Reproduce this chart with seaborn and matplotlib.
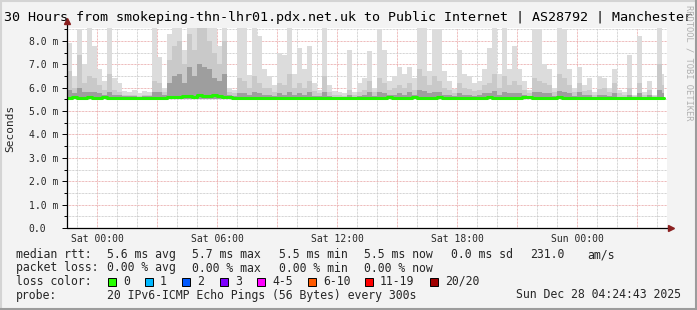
import numpy as np
import pandas as pd
import matplotlib
matplotlib.use("Agg")
import matplotlib.pyplot as plt
import seaborn as sns

# ---------------- data ----------------
TITLE = "30 Hours from smokeping-thn-lhr01.pdx.net.uk to Public Internet | AS28792 | Manchester"
START_HOUR = -1.5          # hours relative to Sat 00:00 at left edge
BIN_HOURS = 0.25           # 15-minute bins
DATA_END = 28.35
SMOKE_MIN = 5.5

smoke_max = [7.9, 6.5, 8.5, 7.0, 8.55, 7.8, 6.8, 6.3, 8.55, 6.4, 6.2, 5.85, 5.8, 5.9, 5.75, 5.85, 5.8, 8.55, 7.3, 6.0,
             8.3, 8.55, 8.55, 7.6, 8.55, 8.55, 8.55, 8.55, 8.55, 8.55,
             7.8, 8.55, 6.0, 5.9, 8.55, 8.55, 6.55, 8.55, 8.2, 6.8, 6.5, 6.1, 7.5, 7.4, 8.55, 6.6, 7.7, 6.8, 7.8, 6.2,
             5.9, 8.55, 6.1, 5.85, 5.8, 5.75, 7.6, 5.8, 6.2, 6.4,
             7.55, 6.0, 8.5, 7.6, 6.3, 6.5, 6.9, 6.6, 6.9, 6.4, 8.55, 8.55, 6.7, 8.5, 8.5, 6.7, 6.3, 5.95, 7.6, 6.6,
             6.5, 6.2, 6.3, 6.8, 7.7, 8.55, 6.6, 8.55, 6.8, 7.8,
             6.8, 6.3, 5.9, 8.5, 8.5, 7.0, 6.8, 6.0, 8.55, 8.5, 6.8, 6.0, 6.9, 6.1, 6.4, 5.8, 6.5, 6.4, 6.0, 6.8,
             5.9, 5.8, 7.4, 5.7, 8.2, 5.8, 6.3, 5.7, 8.55, 6.6]
smoke_mid = [6.7, 6.0, 7.4, 6.2, 6.5, 6.4, 6.1, 5.9, 6.6, 5.9, 5.8, 5.7, 5.7, 5.7, 5.65, 5.7, 5.7, 6.3, 6.2, 5.8,
             7.2, 7.8, 8.0, 7.0, 8.3, 7.6, 8.55, 8.55, 8.0, 7.5,
             7.0, 8.0, 5.8, 5.75, 6.4, 6.3, 6.0, 6.5, 6.2, 6.0, 6.0, 5.8, 6.2, 6.1, 6.6, 6.0, 6.2, 6.0, 6.3, 5.85,
             5.75, 6.5, 5.8, 5.7, 5.7, 5.65, 5.9, 5.7, 5.8, 5.9,
             6.3, 5.8, 6.4, 6.2, 5.9, 6.0, 6.1, 6.0, 6.2, 5.9, 6.8, 6.5, 6.1, 6.5, 6.3, 6.0, 5.9, 5.75, 6.2, 6.0,
             5.95, 5.85, 5.9, 6.1, 6.2, 6.6, 6.0, 6.5, 6.1, 6.3,
             6.1, 5.9, 5.75, 6.4, 6.3, 6.2, 6.1, 5.8, 6.6, 6.4, 6.1, 5.8, 6.2, 5.85, 5.9, 5.7, 5.95, 6.0, 5.8, 6.2,
             5.75, 5.7, 6.0, 5.65, 6.2, 5.7, 5.9, 5.65, 7.0, 6.1]
smoke_low = [5.9, 5.75, 6.0, 5.8, 5.8, 5.8, 5.75, 5.7, 5.8, 5.7, 5.7, 5.65, 5.65, 5.65, 5.6, 5.65, 5.65, 5.8, 5.8, 5.7,
             6.2, 6.5, 6.6, 6.2, 6.9, 6.5, 7.0, 6.9, 6.8, 6.4,
             6.3, 6.6, 5.7, 5.65, 5.75, 5.75, 5.7, 5.8, 5.75, 5.7, 5.7, 5.65, 5.75, 5.7, 5.8, 5.7, 5.75, 5.7, 5.8, 5.65,
             5.65, 5.8, 5.65, 5.6, 5.6, 5.6, 5.7, 5.6, 5.65, 5.7,
             5.8, 5.65, 5.8, 5.75, 5.7, 5.7, 5.75, 5.7, 5.8, 5.7, 5.9, 5.85, 5.75, 5.8, 5.8, 5.7, 5.7, 5.65, 5.75, 5.7,
             5.7, 5.65, 5.7, 5.75, 5.75, 5.85, 5.7, 5.8, 5.75, 5.75,
             5.75, 5.7, 5.65, 5.8, 5.8, 5.75, 5.75, 5.65, 5.85, 5.8, 5.75, 5.65, 5.8, 5.7, 5.7, 5.6, 5.7, 5.7, 5.65, 5.75,
             5.6, 5.6, 5.7, 5.6, 5.75, 5.6, 5.7, 5.6, 5.9, 5.75]
median_rtt = [5.57, 5.58, 5.57, 5.57, 5.58, 5.57, 5.57, 5.58, 5.57, 5.56, 5.56, 5.57, 5.56, 5.57, 5.56, 5.57, 5.56, 5.57, 5.57, 5.56,
              5.6, 5.62, 5.6, 5.64, 5.65, 5.62, 5.68, 5.63, 5.66, 5.68, 5.63, 5.6, 5.58,
              5.57, 5.56, 5.57, 5.56, 5.57, 5.57, 5.56, 5.56, 5.57, 5.56, 5.57, 5.56, 5.56, 5.57, 5.57, 5.56, 5.56, 5.57,
              5.56, 5.56, 5.57, 5.56, 5.56, 5.57, 5.57, 5.56, 5.57,
              5.57, 5.56, 5.57, 5.57, 5.58, 5.57, 5.56, 5.55, 5.57, 5.58, 5.57, 5.57, 5.56, 5.57, 5.58, 5.57, 5.56, 5.57,
              5.57, 5.56, 5.56, 5.57, 5.57, 5.56, 5.58, 5.57, 5.56, 5.57, 5.55, 5.56,
              5.57, 5.58, 5.58, 5.57, 5.57, 5.56, 5.57, 5.57, 5.58, 5.57, 5.56, 5.57, 5.56, 5.57, 5.57, 5.56, 5.57, 5.56,
              5.56, 5.57, 5.57, 5.56, 5.57, 5.57, 5.56, 5.57, 5.56, 5.56, 5.57, 5.56]

y_ticks = [0, 1, 2, 3, 4, 5, 6, 7, 8]
y_labels = ["0.0", "1.0 m", "2.0 m", "3.0 m", "4.0 m", "5.0 m", "6.0 m", "7.0 m", "8.0 m"]
x_ticks = [0, 6, 12, 18, 24]
x_labels = ["Sat 00:00", "Sat 06:00", "Sat 12:00", "Sat 18:00", "Sun 00:00"]

legend_rtt = [("median rtt:", 16), ("5.6 ms avg", 107), ("5.7 ms max", 192), ("5.5 ms min", 279),
              ("5.5 ms now", 364), ("0.0 ms sd", 451), ("231.0", 530), ("am/s", 587)]
legend_loss = [("packet loss:", 16), ("0.00 % avg", 107), ("0.00 % max", 192), ("0.00 % min", 279),
               ("0.00 % now", 364)]
loss_labels = ["0", "1", "2", "3", "4-5", "6-10", "11-19", "20/20"]
loss_colors = ["#26ff00", "#00b8ff", "#0059ff", "#7e00ff", "#ff00ff", "#ff5a00", "#ff0000", "#a00000"]
loss_box_x = [108, 145, 182, 220, 257, 308, 365, 430]
probe_text = "20 IPv6-ICMP Echo Pings (56 Bytes) every 300s"
date_text = "Sun Dec 28 04:24:43 2025"

# ---------------- figure ----------------
W, H = 697, 310
sns.set_style("white")
plt.rcParams["font.family"] = ["DejaVu Sans Mono", "DejaVu Sans"]
fig = plt.figure(figsize=(W / 100, H / 100), dpi=100, facecolor="#f3f3f3")

def fx(x):
    return x / W

def fy(y):
    return 1 - y / H

L, R, T, B = 67, 667, 28, 228
ax = fig.add_axes([fx(L), fy(B), (R - L) / W, (B - T) / H])
ax.set_facecolor("white")

n = len(smoke_max)
edges = np.minimum(START_HOUR + BIN_HOURS * np.arange(n + 1), DATA_END)

def ext(a):
    a = list(a)
    return np.array(a + [a[-1]])

smin = np.full(n + 1, SMOKE_MIN)
ax.fill_between(edges, smin, ext(smoke_max), step="post", color="#dcdcdc", lw=0, zorder=2)
ax.fill_between(edges, smin, ext(smoke_mid), step="post", color="#c9c9c9", lw=0, zorder=3)
ax.fill_between(edges, smin, ext(smoke_low), step="post", color="#9e9e9e", lw=0, zorder=4)

df = pd.DataFrame({"hour": edges, "rtt": ext(median_rtt)})
sns.lineplot(data=df, x="hour", y="rtt", ax=ax, color="#22f500", lw=2.2,
             drawstyle="steps-post", estimator=None, zorder=6)

ax.set_xlim(START_HOUR, START_HOUR + 30)
ax.set_ylim(0, 8.55)

# grid
dots = (0, (0.72, 0.72))
for h in range(-1, 29):
    major = (h % 3 == 0)
    ax.axvline(h, color="#e8a3a3" if major else "#c6c6c6", lw=0.72, ls=dots, zorder=1)
for v in np.arange(0.5, 8.6, 0.5):
    major = float(v).is_integer()
    ax.axhline(v, color="#e8a3a3" if major else "#c6c6c6", lw=0.72, ls=dots, zorder=1)

for s in ["top", "right", "left", "bottom"]:
    ax.spines[s].set_visible(False)

# axes lines with arrows
ax.plot([START_HOUR, START_HOUR], [0, (B - 21) / 23.4], color="black", lw=0.9, clip_on=False, zorder=8)
ax.plot([START_HOUR, START_HOUR + (670 - L) / 20], [0, 0], color="black", lw=0.9, clip_on=False, zorder=8)
ax.plot([START_HOUR], [(B - 21) / 23.4], marker="^", ms=5, color="#8b2020", clip_on=False, zorder=9)
ax.plot([START_HOUR + (671 - L) / 20], [0], marker=">", ms=5, color="#8b2020", clip_on=False, zorder=9)

ax.set_yticks(y_ticks)
ax.set_yticklabels(y_labels)
ax.set_yticks(np.arange(0.5, 8.6, 1.0), minor=True)
ax.tick_params(axis="y", which="major", length=3.5, width=0.7, color="black", labelsize=7.0,
               pad=24.0, direction="out", left=True)
ax.tick_params(axis="y", which="minor", length=2, width=0.7, color="black", left=True)
for lbl in ax.get_yticklabels():
    lbl.set_ha("left")
ax.set_xticks(x_ticks)
ax.set_xticklabels(x_labels)
ax.tick_params(axis="x", which="major", length=0, labelsize=7.0, pad=4, bottom=True)
ax.set_xlabel("")
ax.set_ylabel("")

# texts
fig.text(fx(348), fy(18), TITLE, ha="center", va="center", fontsize=9.6, color="black")
fig.text(fx(10), fy(128), "Seconds", rotation=90, ha="center", va="center", fontsize=8.0)
fig.text(fx(689), fy(5), "RRDTOOL / TOBI OETIKER", rotation=270, ha="center", va="top",
         fontsize=6.3, color="#b0b0b0")

LFS = 8.3
for txt, x in legend_rtt:
    fig.text(fx(x), fy(254.5), txt, ha="left", va="center", fontsize=LFS)
for txt, x in legend_loss:
    fig.text(fx(x), fy(268), txt, ha="left", va="center", fontsize=LFS)
fig.text(fx(16), fy(281.5), "loss color:", ha="left", va="center", fontsize=LFS)
for lab, col, x in zip(loss_labels, loss_colors, loss_box_x):
    fig.patches.append(plt.Rectangle((fx(x), fy(286)), 8 / W, 8 / H, transform=fig.transFigure,
                                     facecolor=col, edgecolor="black", lw=0.7))
    fig.text(fx(x + 15), fy(281.5), lab, ha="left", va="center", fontsize=LFS)
fig.text(fx(16), fy(295), "probe:", ha="left", va="center", fontsize=LFS)
fig.text(fx(107), fy(295), probe_text, ha="left", va="center", fontsize=LFS)
fig.text(fx(681), fy(295), date_text, ha="right", va="center", fontsize=LFS)

# frame
fig.add_artist(plt.Line2D([0, 1], [fy(1), fy(1)], transform=fig.transFigure, color="#d4d4d4", lw=1.5))
fig.add_artist(plt.Line2D([fx(1), fx(1)], [0, 1], transform=fig.transFigure, color="#d4d4d4", lw=1.5))
fig.add_artist(plt.Line2D([0, 1], [fy(309), fy(309)], transform=fig.transFigure, color="#9c9c9c", lw=1.5))
fig.add_artist(plt.Line2D([fx(696), fx(696)], [0, 1], transform=fig.transFigure, color="#9c9c9c", lw=1.5))

fig.savefig("out.png", dpi=100, facecolor=fig.get_facecolor())
